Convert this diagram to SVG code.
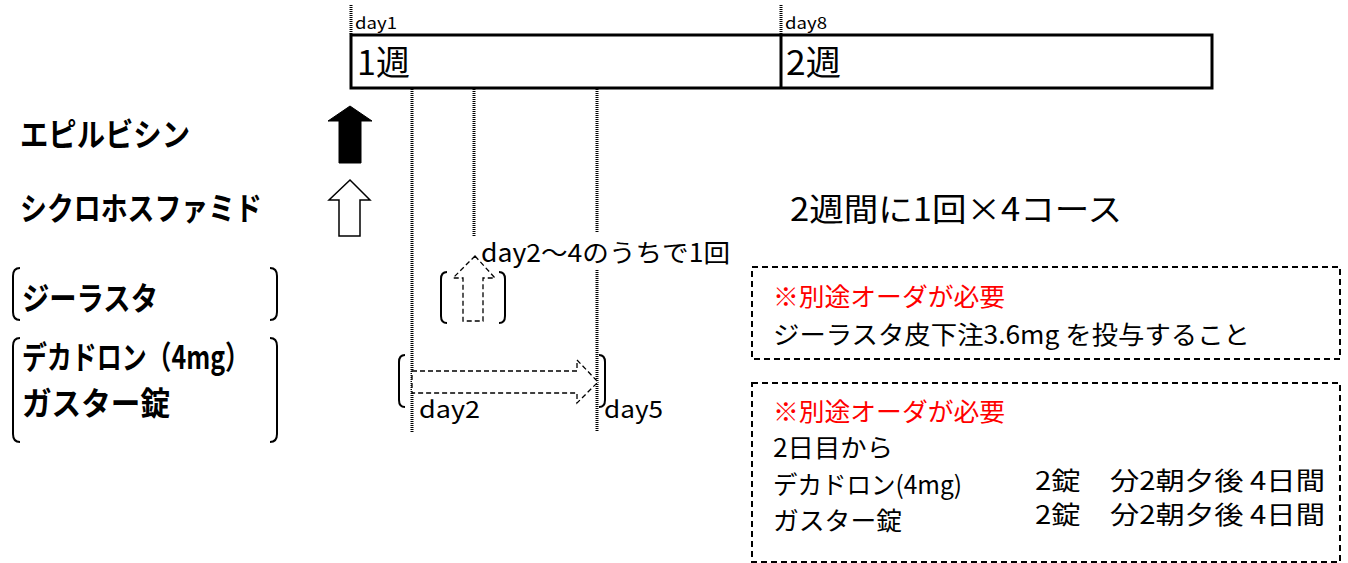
<svg xmlns="http://www.w3.org/2000/svg" width="1348" height="563" viewBox="0 0 1348 563">
<style>
text{font-family:"Noto Sans CJK JP","Noto Sans",sans-serif;fill:#000}
.lbl{font-size:32px;font-weight:bold}
.box{font-size:25px}
.red{fill:#ff0000}
.dot{stroke:#000;stroke-width:3;stroke-dasharray:1 1;fill:none}
.dash{stroke:#000;stroke-width:1.3;stroke-dasharray:5 3;fill:#fff}
.note{stroke:#000;stroke-width:2;stroke-dasharray:6 4;fill:none}
.br{stroke:#000;stroke-width:2;fill:none}
</style>
<rect width="1348" height="563" fill="#fff"/>

<g id="timeline">
<line class="dot" x1="351" y1="5" x2="351" y2="34"/>
<line class="dot" x1="781" y1="5" x2="781" y2="34"/>
<text x="355" y="29" font-size="16" textLength="42" lengthAdjust="spacingAndGlyphs">day1</text>
<text x="785" y="29" font-size="16" textLength="42" lengthAdjust="spacingAndGlyphs">day8</text>
<rect x="351" y="35" width="861" height="53" fill="none" stroke="#000" stroke-width="3"/>
<line x1="781" y1="35" x2="781" y2="88" stroke="#000" stroke-width="3"/>
<text x="357" y="75" font-size="34" textLength="53" lengthAdjust="spacingAndGlyphs">1週</text>
<text x="786" y="75" font-size="34" textLength="55" lengthAdjust="spacingAndGlyphs">2週</text>
</g>

<g id="guides">
<line class="dot" x1="412" y1="89" x2="412" y2="432"/>
<line class="dot" x1="474" y1="89" x2="474" y2="255"/>
<line class="dot" x1="597" y1="89" x2="597" y2="232"/>
<line class="dot" x1="597" y1="270" x2="597" y2="432"/>
</g>

<g id="labels">
<text class="lbl" x="20" y="146" textLength="170" lengthAdjust="spacingAndGlyphs">エピルビシン</text>
<text class="lbl" x="20" y="220" textLength="242" lengthAdjust="spacingAndGlyphs">シクロホスファミド</text>
<text class="lbl" x="22" y="310" textLength="136" lengthAdjust="spacingAndGlyphs">ジーラスタ</text>
<text class="lbl" x="22" y="369" textLength="228" lengthAdjust="spacingAndGlyphs">デカドロン（4mg）</text>
<text class="lbl" x="22" y="415" textLength="148" lengthAdjust="spacingAndGlyphs">ガスター錠</text>
<path class="br" d="M20,268 Q13,268 13,276 L13,312 Q13,320 20,320"/>
<path class="br" d="M270,268 Q277,268 277,276 L277,312 Q277,320 270,320"/>
<path class="br" d="M20,338 Q13,338 13,346 L13,434 Q13,442 20,442"/>
<path class="br" d="M270,338 Q277,338 277,346 L277,434 Q277,442 270,442"/>
</g>

<g id="epirubicin-arrow">
<polygon points="350,106 372,121 361,121 361,163 339,163 339,121 328,121" fill="#000" stroke="#000" stroke-width="1"/>
</g>
<g id="cyclophosphamide-arrow">
<polygon points="350,180 370,200 360,200 360,236 339,236 339,200 329,200" fill="#fff" stroke="#000" stroke-width="1.5"/>
</g>

<g id="course">
<text x="790" y="221" font-size="32" textLength="332" lengthAdjust="spacingAndGlyphs">2週間に1回×4コース</text>
</g>

<g id="g-lasta-arrow">
<rect x="470" y="236" width="262" height="30" fill="#fff"/>
<text x="481" y="262" font-size="25" textLength="249" lengthAdjust="spacingAndGlyphs">day2～4のうちで1回</text>
<polygon class="dash" points="475,256 495,278 483,278 483,321 463,321 463,278 453,278"/>
<path class="br" d="M447,272 Q441,272 441,279 L441,316 Q441,323 447,323"/>
<path class="br" d="M499,272 Q505,272 505,279 L505,316 Q505,323 499,323"/>
</g>

<g id="decadron-arrow">
<polygon class="dash" points="412,371 577,371 577,360 598,382 577,403 577,393 412,393"/>
<path class="br" d="M405,355 Q399,355 399,362 L399,400 Q399,407 405,407"/>
<path class="br" d="M599,355 Q605,355 605,362 L605,400 Q605,407 599,407"/>
<text x="419" y="418" font-size="24" textLength="61" lengthAdjust="spacingAndGlyphs">day2</text>
<text x="604" y="418" font-size="24" textLength="59" lengthAdjust="spacingAndGlyphs">day5</text>
</g>

<g id="note1">
<rect class="note" x="752" y="267" width="588" height="92"/>
<text class="box red" x="773" y="306" textLength="232" lengthAdjust="spacingAndGlyphs">※別途オーダが必要</text>
<text class="box" x="773" y="344" textLength="477" lengthAdjust="spacingAndGlyphs">ジーラスタ皮下注3.6mg を投与すること</text>
</g>

<g id="note2">
<rect class="note" x="752" y="383" width="588" height="179"/>
<text class="box red" x="773" y="421" textLength="232" lengthAdjust="spacingAndGlyphs">※別途オーダが必要</text>
<text class="box" x="773" y="457" textLength="120" lengthAdjust="spacingAndGlyphs">2日目から</text>
<text class="box" x="773" y="494" textLength="189" lengthAdjust="spacingAndGlyphs">デカドロン(4mg)</text>
<text class="box" x="773" y="530" textLength="129" lengthAdjust="spacingAndGlyphs">ガスター錠</text>
<text class="box" x="1035" y="490" textLength="290" lengthAdjust="spacingAndGlyphs">2錠　分2朝夕後 4日間</text>
<text class="box" x="1035" y="524" textLength="290" lengthAdjust="spacingAndGlyphs">2錠　分2朝夕後 4日間</text>
</g>
</svg>
